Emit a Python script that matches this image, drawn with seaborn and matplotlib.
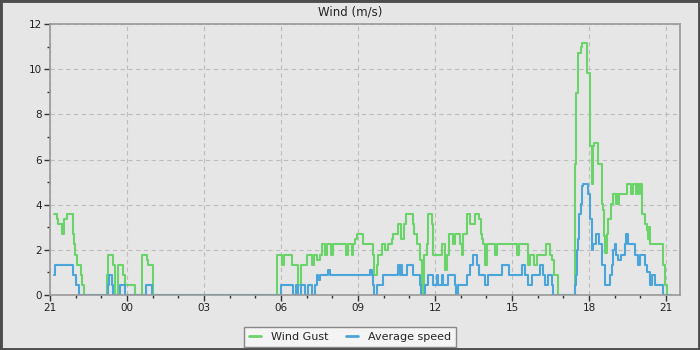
import matplotlib
matplotlib.use("Agg")
import matplotlib.pyplot as plt
import seaborn as sns
import pandas as pd
from matplotlib.ticker import MultipleLocator, FixedLocator
from matplotlib.patches import Rectangle

# hours since 21:00
gust_hours = [0.17, 0.28, 0.32, 0.46, 0.53, 0.56, 0.65, 0.91, 0.95, 0.98, 1.04, 1.21, 1.26, 1.34,
              2.21, 2.27, 2.47, 2.53, 2.66, 2.86, 2.92, 3.31, 3.60, 3.79, 3.83, 4.02,
              8.86, 9.04, 9.12, 9.44, 9.67, 9.77, 10.00, 10.20, 10.30, 10.39, 10.52, 10.59, 10.72,
              10.80, 10.95, 11.04, 11.53, 11.62, 11.75, 11.80, 11.88, 11.95, 12.21, 12.60, 12.62,
              12.73, 12.79, 12.92, 13.05, 13.18, 13.31, 13.37, 13.55, 13.68, 13.80, 13.87, 14.13,
              14.19, 14.29, 14.42, 14.48, 14.53, 14.57, 14.69, 14.74, 14.87, 14.93, 15.26, 15.39,
              15.46, 15.56, 15.72, 15.78, 15.98, 16.04, 16.10, 16.23, 16.36, 16.56, 16.73, 16.80,
              16.84, 16.88, 16.95, 17.01, 17.34, 17.43, 18.18, 18.28, 18.63, 18.70, 18.86, 18.96,
              19.33, 19.48, 19.55, 19.64, 19.80, 20.45, 20.49, 20.58, 20.68, 20.74, 20.91, 21.04,
              21.10, 21.16, 21.20, 21.36, 21.51, 21.55, 21.59, 21.62, 21.69, 21.75, 21.85, 21.95,
              22.05, 22.09, 22.13, 22.18, 22.47, 22.63, 22.73, 22.83, 22.88, 22.93, 22.97, 23.06,
              23.19, 23.25, 23.28, 23.32, 23.38, 23.90, 23.96, 24.03]
gust_speed = [3.58, 3.35, 3.13, 2.68, 2.90, 3.35, 3.58, 2.68, 2.24, 1.79, 1.34, 0.89, 0.45, 0.0,
              0.89, 1.79, 1.34, 0.0, 1.34, 0.89, 0.45, 0.0, 1.79, 1.56, 1.34, 0.0,
              1.79, 1.34, 1.79, 1.34, 0.45, 1.34, 1.79, 1.34, 1.79, 1.56, 1.79, 2.24, 1.79,
              2.24, 1.79, 2.24, 1.79, 2.24, 1.79, 2.24, 2.46, 2.68, 2.24, 1.79, 0.89,
              1.34, 1.79, 2.24, 2.00, 2.24, 2.46, 2.68, 3.13, 2.46, 3.13, 3.58, 3.13,
              2.68, 2.24, 1.56, 0.45, 0.0, 1.79, 2.24, 3.58, 3.13, 1.79, 2.24, 1.12,
              1.79, 2.68, 2.24, 2.68, 2.24, 1.79, 2.68, 3.58, 3.13, 3.58, 3.35, 2.68,
              2.46, 2.24, 1.34, 2.24, 1.79, 2.24, 1.79, 2.24, 1.34, 1.79, 1.34, 1.79,
              2.24, 1.79, 1.56, 0.89, 0.0, 5.81, 8.94, 10.73, 11.00, 11.18, 9.83, 6.61,
              4.92, 6.61, 6.71, 5.81, 4.02, 3.76, 2.60, 1.85, 2.68, 3.35, 4.02, 4.47,
              4.02, 4.47, 4.02, 4.47, 4.92, 4.47, 4.92, 4.47, 4.92, 4.47, 4.92, 3.58,
              3.13, 2.90, 2.46, 3.00, 2.24, 1.34, 0.45, 0.0]

avg_hours = [0.17, 0.19, 0.91, 1.00, 1.14, 2.27, 2.31, 2.40, 2.47, 2.73, 2.92, 3.73, 3.99,
             8.99, 9.46, 9.58, 9.67, 9.77, 9.94, 10.06, 10.20, 10.32, 10.39, 10.44, 10.52,
             10.84, 10.91, 12.47, 12.53, 12.60, 12.62, 12.73, 12.99, 13.57, 13.62, 13.66,
             13.70, 13.90, 14.15, 14.42, 14.46, 14.61, 14.74, 14.93, 15.07, 15.13, 15.26,
             15.30, 15.52, 15.78, 15.82, 15.91, 16.23, 16.36, 16.49, 16.62, 16.73, 16.95,
             17.08, 17.60, 17.89, 18.38, 18.51, 18.63, 18.77, 19.09, 19.19, 19.29, 19.41,
             19.55, 19.61, 20.45, 20.49, 20.53, 20.57, 20.62, 20.68, 20.72, 20.75, 20.97,
             21.04, 21.10, 21.17, 21.27, 21.40, 21.49, 21.62, 21.82, 21.91, 21.95, 22.02,
             22.06, 22.14, 22.23, 22.40, 22.46, 22.53, 22.79, 22.92, 22.99, 23.18, 23.25,
             23.38, 23.44, 23.57, 23.90, 24.19]
avg_speed = [0.89, 1.34, 0.89, 0.45, 0.0, 0.45, 0.89, 0.45, 0.0, 0.45, 0.0, 0.45, 0.0,
             0.45, 0.0, 0.45, 0.0, 0.45, 0.0, 0.45, 0.0, 0.45, 0.89, 0.67, 0.89,
             1.12, 0.89, 1.12, 0.89, 0.45, 0.0, 0.45, 0.89, 1.34, 0.89, 1.34,
             0.89, 1.34, 0.89, 0.45, 0.0, 0.45, 0.89, 0.45, 0.89, 0.45, 0.89,
             0.45, 0.89, 0.45, 0.0, 0.45, 0.89, 1.34, 1.79, 1.34, 0.89, 0.45,
             0.89, 1.34, 0.89, 1.34, 0.89, 0.45, 0.89, 1.34, 0.89, 0.45, 0.89,
             0.45, 0.0, 0.45, 0.89, 2.01, 2.46, 3.58, 4.02, 4.81, 4.92, 4.47,
             3.35, 2.01, 2.24, 2.68, 2.24, 1.34, 0.45, 0.89, 1.34, 2.01, 2.24,
             1.79, 1.56, 1.79, 2.24, 2.68, 2.24, 1.79, 1.34, 1.79, 1.34, 1.01,
             0.45, 0.89, 0.45, 0.0, 0.0]

x_tick_hours = [0, 3, 6, 9, 12, 15, 18, 21, 24]
x_tick_labels = ["21", "00", "03", "06", "09", "12", "15", "18", "21"]
y_ticks = [0, 2, 4, 6, 8, 10, 12]
series_names = ["Wind Gust", "Average speed"]
series_colors = ["#6ad46a", "#4aa6da"]

BG = "#e6e6e6"
sns.set_theme(style="white")
plt.rcParams["font.family"] = ["DejaVu Sans"]

fig = plt.figure(figsize=(7, 3.5), dpi=100, facecolor=BG)
ax = fig.add_axes([50/700, 1-295/350, 630/700, 271/350])
ax.set_facecolor(BG)

gust_df = pd.DataFrame({"hour": gust_hours, "speed": gust_speed})
avg_df = pd.DataFrame({"hour": avg_hours, "speed": avg_speed})

sns.lineplot(data=gust_df, x="hour", y="speed", ax=ax, color=series_colors[0],
             estimator=None, sort=False, drawstyle="steps-post", linewidth=1.5,
             label=series_names[0], legend=False)
sns.lineplot(data=avg_df, x="hour", y="speed", ax=ax, color=series_colors[1],
             estimator=None, sort=False, drawstyle="steps-post", linewidth=1.5,
             label=series_names[1], legend=False)

ax.set_xlim(0, 630/25.667)
ax.set_ylim(0, 12)
ax.xaxis.set_major_locator(FixedLocator(x_tick_hours))
ax.set_xticklabels(x_tick_labels)
ax.xaxis.set_minor_locator(MultipleLocator(1))
ax.set_yticks(y_ticks)
ax.yaxis.set_minor_locator(MultipleLocator(1))
ax.set_xlabel("")
ax.set_ylabel("")

ax.grid(True, which="major", color="#bdbdbd", linestyle=(0, (4, 3)), linewidth=0.8)
ax.set_axisbelow(True)
for s in ax.spines.values():
    s.set_color("#999999")
    s.set_linewidth(1.2)
ax.tick_params(which="major", direction="out", length=4, width=1, color="#333333",
               labelsize=7.5, labelcolor="#222222", pad=2, bottom=True, left=True)
ax.tick_params(which="minor", direction="out", length=2.5, width=1, color="#333333",
               bottom=True, left=True)

fig.text(0.5, 1-12/350, "Wind (m/s)", ha="center", va="center", fontsize=8.5, color="#222222")

handles, labels = ax.get_legend_handles_labels()
leg = fig.legend(handles, labels, loc="center", bbox_to_anchor=(0.5, 1-337/350), ncol=2,
                 fontsize=8, frameon=True, fancybox=False, handlelength=1.1,
                 handletextpad=0.9, columnspacing=1.6, borderpad=0.45)
leg.get_frame().set_facecolor("#f4f4f4")
leg.get_frame().set_edgecolor("#888888")
leg.get_frame().set_linewidth(1.0)
leg.get_frame().set_alpha(1)
for ln in leg.get_lines():
    ln.set_linewidth(2)

fig.patches.append(Rectangle((0, 0), 1, 1, transform=fig.transFigure, fill=False,
                             edgecolor="#4d4d4d", linewidth=3.5, zorder=10))

fig.savefig("out.png", dpi=100, facecolor=BG)
